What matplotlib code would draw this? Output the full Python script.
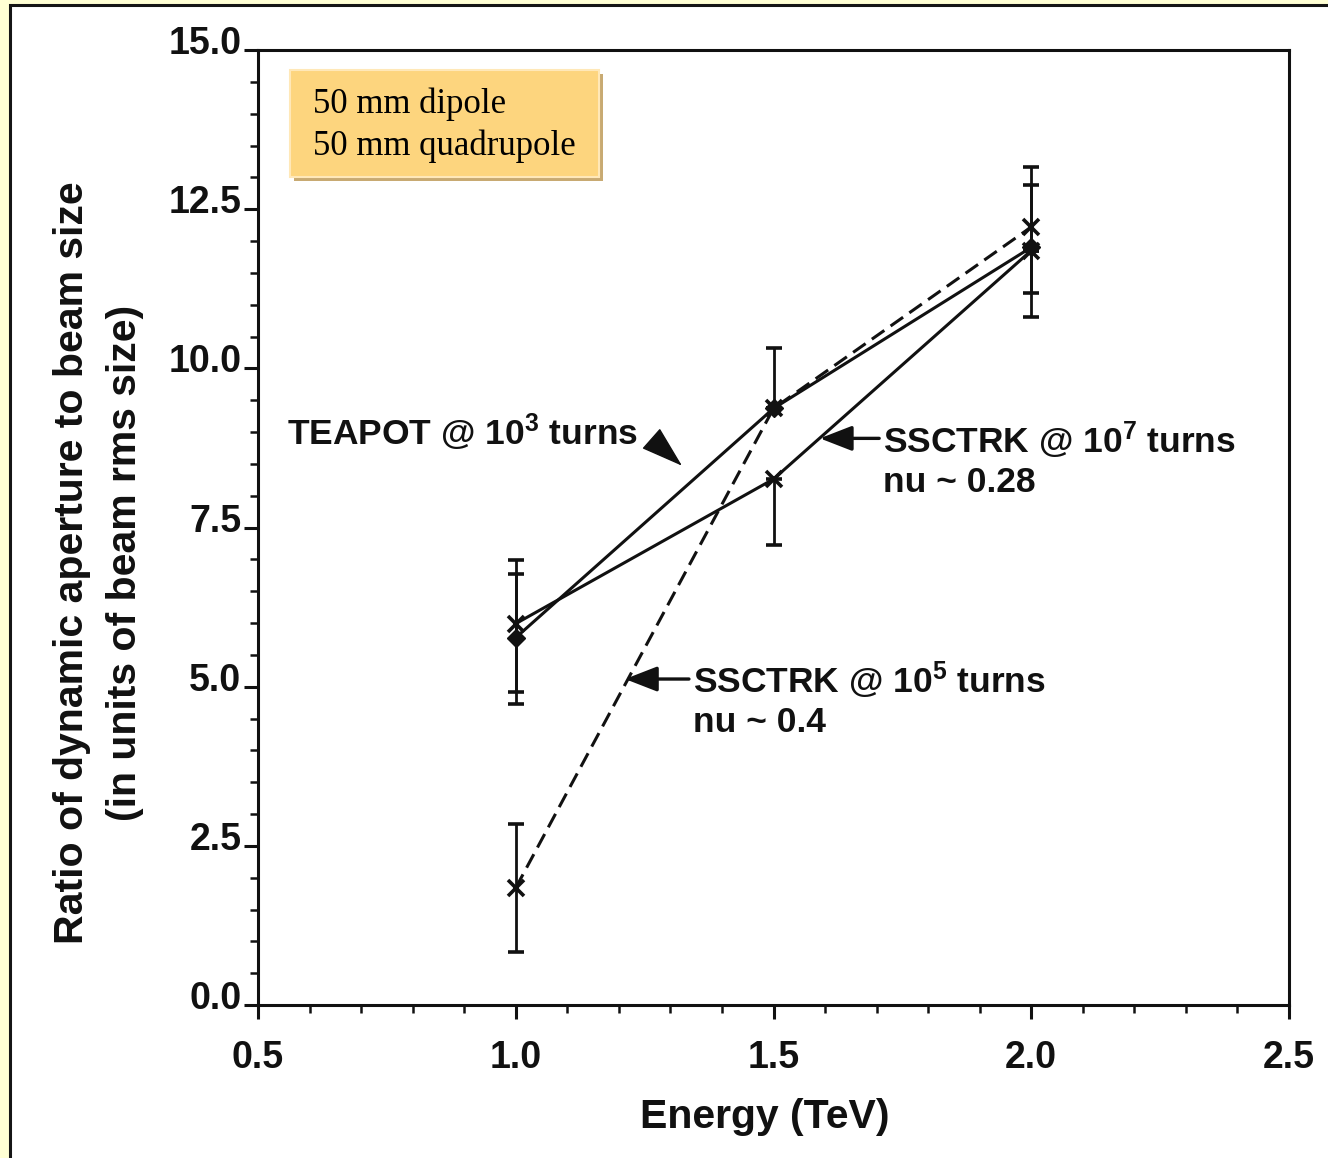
import matplotlib
matplotlib.use("Agg")
import matplotlib.pyplot as plt
from matplotlib.patches import Rectangle
from matplotlib.ticker import MultipleLocator, FormatStrFormatter
from matplotlib.transforms import ScaledTranslation

plt.rcParams['font.family'] = ['Liberation Sans', 'DejaVu Sans']
plt.rcParams['mathtext.fontset'] = 'custom'
plt.rcParams['mathtext.rm'] = 'Liberation Sans'
plt.rcParams['mathtext.bf'] = 'Liberation Sans:bold'
plt.rcParams['mathtext.default'] = 'regular'

# Energy points (TeV)
energy = [1.0, 1.5, 2.0]

# TEAPOT @ 10^3 turns
teapot = [5.77, 9.37, 11.90]
teapot_lo = [1.04, 0.0, 1.10]
teapot_hi = [1.00, 0.0, 0.98]

# SSCTRK @ 10^7 turns, nu ~ 0.28
ssc7 = [5.99, 8.26, 11.85]
ssc7_lo = [1.07, 1.04, 0.0]
ssc7_hi = [1.00, 0.0, 0.0]

# SSCTRK @ 10^5 turns, nu ~ 0.4
ssc5 = [1.84, 9.37, 12.22]
ssc5_lo = [1.01, 0.0, 1.04]
ssc5_hi = [1.00, 0.95, 0.94]

x_ticks = [0.5, 1.0, 1.5, 2.0, 2.5]
y_ticks = [0.0, 2.5, 5.0, 7.5, 10.0, 12.5, 15.0]

W, H, DPI = 1328, 1158, 100
fig = plt.figure(figsize=(W / DPI, H / DPI), dpi=DPI, facecolor='#FFFFD4')

# white page with dark frame
page = Rectangle((10 / W, -0.1), 1.2, 1.1 - 5 / H, transform=fig.transFigure,
                 facecolor='white', edgecolor='#151515', linewidth=2.2, zorder=-10)
fig.patches.append(page)

ax = fig.add_axes([258 / W, 1 - 1005 / H, (1289 - 258) / W, (1005 - 50) / H])
ax.set_facecolor('none')
ax.set_xlim(0.5, 2.5)
ax.set_ylim(0.0, 15.0)

ink = '#111111'
for s in ax.spines.values():
    s.set_linewidth(2.2)
    s.set_color(ink)

ax.set_xticks(x_ticks)
ax.set_yticks(y_ticks)
ax.xaxis.set_minor_locator(MultipleLocator(0.1))
ax.yaxis.set_minor_locator(MultipleLocator(0.5))
ax.xaxis.set_major_formatter(FormatStrFormatter('%.1f'))
ax.yaxis.set_major_formatter(FormatStrFormatter('%.1f'))
ax.tick_params(which='major', length=10, width=2.2, color=ink, labelsize=27,
               labelcolor=ink, direction='out')
ax.tick_params(which='minor', length=6, width=1.8, color=ink, direction='out')
ax.tick_params(axis='x', which='major', pad=15)
ax.tick_params(axis='y', which='major', pad=2)
for lab in ax.get_xticklabels() + ax.get_yticklabels():
    lab.set_fontweight('bold')
for lab in ax.get_yticklabels():
    lab.set_transform(lab.get_transform() + ScaledTranslation(0, 0.10, fig.dpi_scale_trans))

lw = 2.2
ekw = dict(ecolor=ink, elinewidth=2.0, capsize=6, capthick=2.6)

ax.errorbar(energy, teapot, yerr=[teapot_lo, teapot_hi], color=ink, lw=lw,
            marker='D', ms=9, mfc=ink, mec=ink, **ekw)
ax.errorbar(energy, ssc7, yerr=[ssc7_lo, ssc7_hi], color=ink, lw=lw,
            marker='x', ms=12, mew=2.6, **ekw)
ax.errorbar(energy, ssc5, yerr=[ssc5_lo, ssc5_hi], color=ink, lw=lw,
            ls=(0, (5, 2.5)), marker='x', ms=12, mew=2.6, **ekw)

txt = dict(fontsize=25.5, fontweight='bold', color=ink, va='center', ha='left')
akw = dict(arrowstyle='-|>,head_length=0.9,head_width=0.35', color=ink, lw=2.4,
           shrinkA=0, shrinkB=0, mutation_scale=22)
wedge = dict(arrowstyle='-|>,head_length=1.25,head_width=0.4', color=ink, lw=1,
             shrinkA=0, shrinkB=0, mutation_scale=22)

ax.text(0.556, 9.0, r'TEAPOT @ 10$^{3}$ turns', **txt)
ax.annotate('', xy=(1.3225, 8.47), xytext=(1.268, 8.86), arrowprops=wedge)

ax.text(1.712, 8.87, r'SSCTRK @ 10$^{7}$ turns', **txt)
ax.text(1.712, 8.21, 'nu ~ 0.28', **txt)
ax.annotate('', xy=(1.590, 8.90), xytext=(1.705, 8.90), arrowprops=akw)

ax.text(1.344, 5.10, r'SSCTRK @ 10$^{5}$ turns', **txt)
ax.text(1.344, 4.44, 'nu ~ 0.4', **txt)
ax.annotate('', xy=(1.212, 5.12), xytext=(1.336, 5.12), arrowprops=akw)

# axis titles
fig.text(72 / W, 1 - 563 / H, 'Ratio of dynamic aperture to beam size',
         rotation=90, ha='center', va='center', fontsize=29.5, fontweight='bold', color=ink)
fig.text(125 / W, 1 - 563 / H, '(in units of beam rms size)',
         rotation=90, ha='center', va='center', fontsize=29.5, fontweight='bold', color=ink)
fig.text(765 / W, 1 - 1117 / H, 'Energy (TeV)', ha='center', va='center',
         fontsize=29.5, fontweight='bold', color=ink)

# magnet aperture note box
bx0, by0, bx1, by1 = 290, 70, 599, 177
fig.patches.append(Rectangle(((bx0 + 4) / W, 1 - (by1 + 4) / H), (bx1 - bx0) / W,
                             (by1 - by0) / H, transform=fig.transFigure,
                             facecolor='#C8AA72', edgecolor='none', zorder=5))
fig.patches.append(Rectangle((bx0 / W, 1 - by1 / H), (bx1 - bx0) / W, (by1 - by0) / H,
                             transform=fig.transFigure, facecolor='#FDD57E',
                             edgecolor='#FFE8B8', linewidth=1.5, zorder=6))
fig.text(313 / W, 1 - 104 / H, '50 mm dipole', fontsize=25, ha='left', va='center',
         family=['Liberation Serif', 'DejaVu Serif'], color='black', zorder=7)
fig.text(313 / W, 1 - 146 / H, '50 mm quadrupole', fontsize=25, ha='left', va='center',
         family=['Liberation Serif', 'DejaVu Serif'], color='black', zorder=7)

fig.savefig('out.png', dpi=DPI, facecolor=fig.get_facecolor())
